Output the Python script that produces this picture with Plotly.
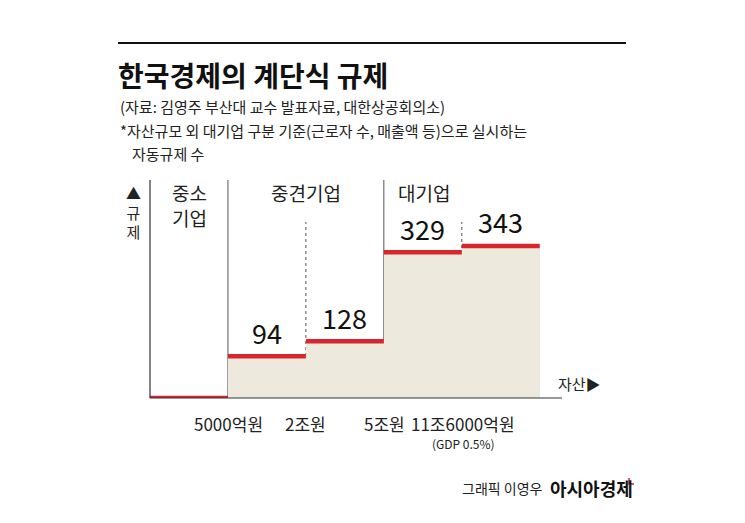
import plotly.graph_objects as go

values = [0, 94, 128, 329, 343]
value_labels = ["", "94", "128", "329", "343"]
group_labels = ["중소<br>기업", "중견기업", "대기업"]
tick_labels = ["5000억원", "2조원", "5조원", "11조6000억원"]

W, H = 745, 523
OFF = 8
F = "Noto Sans CJK KR"
RED = "#d9262c"
BEIGE = "#ede9dd"

def px(x): return (x - OFF) / W
def py(y): return 1 - (y - OFF) / H

fig = go.Figure()
idx = list(range(len(values)))
fig.add_trace(go.Bar(x=idx, y=values, width=1, marker=dict(color=BEIGE, line=dict(width=0)),
                     hoverinfo="skip"))
for i, v in enumerate(values):
    fig.add_trace(go.Scatter(x=[i - 0.5, i + 0.5], y=[v, v], mode="lines",
                             line=dict(color=RED, width=4.5), hoverinfo="skip"))
    if value_labels[i]:
        fig.add_annotation(x=i, y=v, text=value_labels[i], showarrow=False, yshift=24,
                           font=dict(family=F, size=27, color="#111"))

ymax = 343 * 218 / 152
fig.update_layout(
    width=W, height=H, margin=dict(l=0, r=0, t=0, b=0), showlegend=False,
    paper_bgcolor="white", plot_bgcolor="white", bargap=0,
    xaxis=dict(domain=[px(150), px(560)], range=[-0.5, 4.76], showgrid=False, zeroline=False,
               showticklabels=False, showline=False),
    yaxis=dict(domain=[py(398), py(180)], range=[0, ymax], showgrid=False, zeroline=False,
               showticklabels=False, showline=False),
)
fig.add_shape(type="line", xref="paper", yref="paper", x0=px(150), x1=px(150), y0=py(398), y1=py(180),
              line=dict(color="#333", width=1.2))
fig.add_shape(type="line", xref="paper", yref="paper", x0=px(150), x1=px(562), y0=py(398), y1=py(398),
              line=dict(color="#333", width=1.2))
for xb, dash, top in [(0.5, "solid", 180), (2.5, "solid", 180), (1.5, "dot", 222), (3.5, "dot", 222)]:
    fig.add_shape(type="line", xref="x", yref="paper", x0=xb, x1=xb, y0=py(398), y1=py(top),
                  line=dict(color="#555", width=1, dash=dash), layer="below")

def txt(x, y, s, size=15, anchor="left", color="#222", bold=False):
    if bold: s = "<b>" + s + "</b>"
    fig.add_annotation(xref="paper", yref="paper", x=px(x), y=py(y), text=s, showarrow=False,
                       xanchor=anchor, yanchor="middle", align="center",
                       font=dict(family=F, size=size, color=color))

fig.add_shape(type="line", xref="paper", yref="paper", x0=px(118), x1=px(626), y0=py(43), y1=py(43),
              line=dict(color="#111", width=2))
txt(116, 75, "한국경제의 계단식 규제", 28, bold=True, color="#111")
txt(118, 106, "(자료: 김영주 부산대 교수 발표자료, 대한상공회의소)", 15)
txt(118, 130, "*자산규모 외 대기업 구분 기준(근로자 수, 매출액 등)으로 실시하는", 15)
txt(130, 154, "자동규제 수", 15)

txt(133, 212, "▲<br>규<br>제", 15, anchor="center")
txt(189, 205, group_labels[0], 19, anchor="center")
txt(306, 192, group_labels[1], 19, anchor="center")
txt(424, 192, group_labels[2], 19, anchor="center")
txt(603, 383, "자산▶", 15, anchor="right")

for x, s in zip([228, 305, 384, 463], tick_labels):
    txt(x, 423, s, 17, anchor="center")
txt(463, 443, "(GDP 0.5%)", 12, anchor="center")
txt(545, 488, "그래픽 이영우", 14, anchor="right")
txt(548, 488, "아시아경제", 18, bold=True, color="#111")
fig.add_shape(type="path", xref="paper", yref="paper",
              path=f"M {px(629)} {py(478)} L {px(629)} {py(484)} L {px(634)} {py(484)}",
              line=dict(color=RED, width=1.5))

fig.write_html("out.html")
